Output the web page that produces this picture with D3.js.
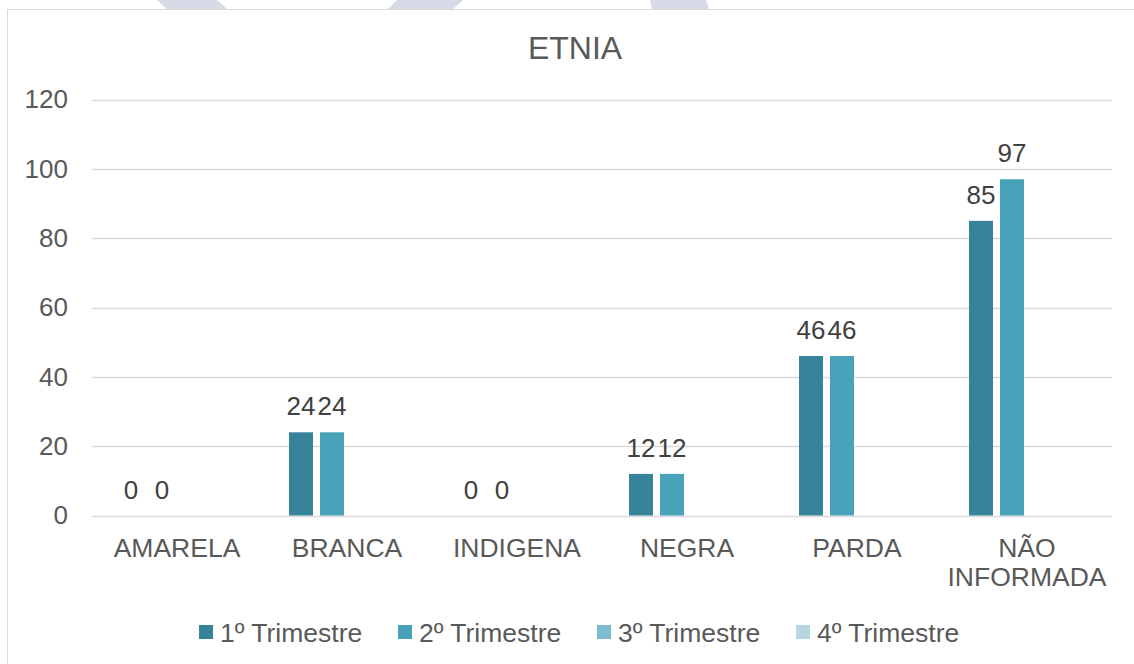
<!DOCTYPE html>
<html>
<head>
<meta charset="utf-8">
<script src="https://cdn.jsdelivr.net/npm/d3@7"></script>
<style>
html,body{margin:0;padding:0;background:#fff;}
svg{display:block;}
text{font-family:"Liberation Sans", Arial, sans-serif;}
</style>
</head>
<body>
<svg id="chart" width="1134" height="664"></svg>
<script>
const categories = ["AMARELA", "BRANCA", "INDIGENA", "NEGRA", "PARDA", "NÃO INFORMADA"];
const seriesNames = ["1º Trimestre", "2º Trimestre", "3º Trimestre", "4º Trimestre"];
const t1 = [0, 24, 0, 12, 46, 85];
const t2 = [0, 24, 0, 12, 46, 97];
const t3 = [null, null, null, null, null, null];
const t4 = [null, null, null, null, null, null];
const seriesColors = ["#37849a", "#48a2ba", "#7cbbd1", "#b6d6e1"];
const yTicks = [0, 20, 40, 60, 80, 100, 120];
const title = "ETNIA";

const series = [t1, t2, t3, t4];
const svg = d3.select("#chart");

// watermark shapes at top (decorative)
const wm = [
  [[157,0],[217,0],[227,9],[167,9]],
  [[397,0],[463,0],[453,9],[388,9]],
  [[650,0],[706,0],[709,9],[652,9]]
];
svg.selectAll("polygon.wm").data(wm).join("polygon")
  .attr("points", d => d.map(p => p.join(",")).join(" "))
  .attr("fill", "#d6dbe7");

// chart border
svg.append("rect").attr("x", 7.5).attr("y", 9.5).attr("width", 1140).attr("height", 670)
  .attr("fill", "none").attr("stroke", "#d9d9d9").attr("stroke-width", 1);

const plot = {left: 92, right: 1112, top: 99.5, bottom: 515.5};
const x = d3.scaleBand().domain(categories).range([plot.left, plot.right]).paddingInner(0).paddingOuter(0);
const y = d3.scaleLinear().domain([0, 120]).range([plot.bottom, plot.top]);
const xs = d3.scaleBand().domain(d3.range(seriesNames.length)).range([27, x.bandwidth() - 26]).paddingInner(7/31).paddingOuter(0);

// grid lines
svg.append("g").selectAll("line").data(yTicks).join("line")
  .attr("x1", plot.left).attr("x2", plot.right)
  .attr("y1", d => Math.round(y(d)) + 0.5).attr("y2", d => Math.round(y(d)) + 0.5)
  .attr("stroke", "#d9d9d9").attr("stroke-width", 1.5);

// y axis labels
const yAxis = d3.axisLeft(y).tickValues(yTicks).tickSize(0).tickPadding(0);
const ya = svg.append("g").attr("transform", `translate(68,0)`).call(yAxis);
ya.select(".domain").remove();
ya.selectAll("text").attr("font-size", 26).attr("fill", "#595959")
  .attr("font-family", "Liberation Sans, Arial, sans-serif");

// bars
const groups = svg.append("g").selectAll("g").data(categories).join("g")
  .attr("transform", d => `translate(${x(d)},0)`);
groups.each(function(cat, ci) {
  const g = d3.select(this);
  series.forEach((s, si) => {
    const v = s[ci];
    if (v === null || v === undefined) return;
    g.append("rect")
      .attr("x", xs(si)).attr("width", xs.bandwidth())
      .attr("y", y(v)).attr("height", y(0) - y(v))
      .attr("fill", seriesColors[si]);
    g.append("text")
      .attr("x", xs(si) + xs.bandwidth() / 2)
      .attr("y", y(v) - 17)
      .attr("text-anchor", "middle")
      .attr("font-size", 26).attr("fill", "#404040")
      .text(v);
  });
});

// category labels
const catLabels = svg.append("g").selectAll("text").data(categories).join("text")
  .attr("x", d => x(d) + x.bandwidth() / 2)
  .attr("y", 557)
  .attr("text-anchor", "middle")
  .attr("font-size", 26.5).attr("fill", "#595959");
catLabels.each(function(d) {
  const words = d === "NÃO INFORMADA" ? ["NÃO", "INFORMADA"] : [d];
  const t = d3.select(this);
  words.forEach((w, i) => {
    t.append("tspan").attr("x", x(d) + x.bandwidth() / 2).attr("dy", i === 0 ? 0 : 29).text(w);
  });
});

// title
svg.append("text").attr("x", 575).attr("y", 59).attr("text-anchor", "middle")
  .attr("font-size", 32).attr("fill", "#595959").text(title);

// legend
const legendX = d3.scalePoint().domain(seriesNames).range([199, 796]);
const lg = svg.append("g").selectAll("g").data(seriesNames).join("g")
  .attr("transform", d => `translate(${legendX(d)},625)`);
lg.append("rect").attr("width", 14).attr("height", 14).attr("fill", (d, i) => seriesColors[i]);
lg.append("text").attr("x", 21).attr("y", 16.5).attr("font-size", 26.5).attr("fill", "#595959").text(d => d);
</script>
</body>
</html>
